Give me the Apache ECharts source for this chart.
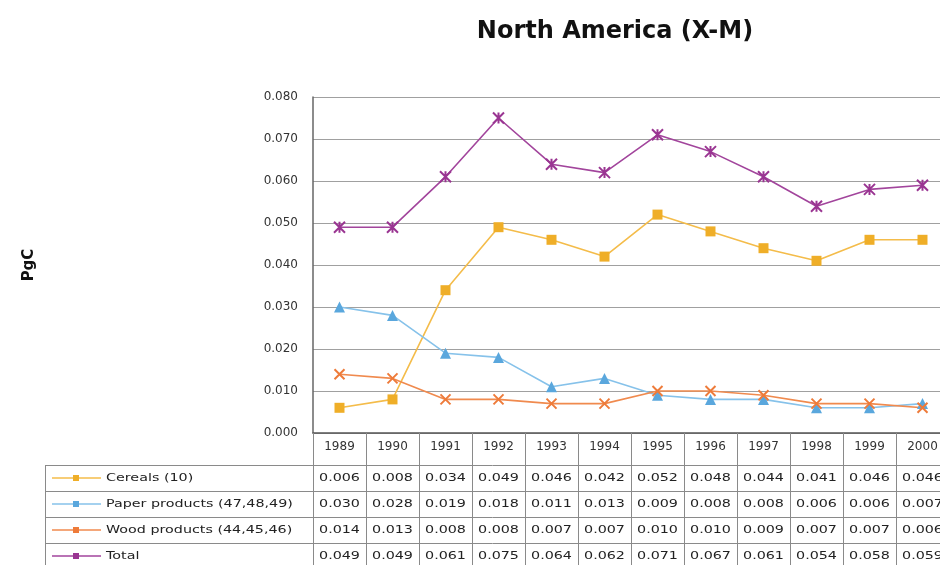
<!DOCTYPE html>
<html>
<head>
<meta charset="utf-8">
<title>North America (X-M)</title>
<script src="https://cdn.jsdelivr.net/npm/echarts@6/dist/echarts.min.js"></script>
<style>
  html, body { margin: 0; padding: 0; background: #fff; }
  #chart { width: 940px; height: 565px; }
</style>
</head>
<body>
<div id="chart"></div>
<script>
// Net trade (exports minus imports) of harvested carbon, PgC
const years = ['1989', '1990', '1991', '1992', '1993', '1994', '1995', '1996', '1997', '1998', '1999', '2000'];
const cereals = [0.006, 0.008, 0.034, 0.049, 0.046, 0.042, 0.052, 0.048, 0.044, 0.041, 0.046, 0.046];
const paperProducts = [0.030, 0.028, 0.019, 0.018, 0.011, 0.013, 0.009, 0.008, 0.008, 0.006, 0.006, 0.007];
const woodProducts = [0.014, 0.013, 0.008, 0.008, 0.007, 0.007, 0.010, 0.010, 0.009, 0.007, 0.007, 0.006];
const total = [0.049, 0.049, 0.061, 0.075, 0.064, 0.062, 0.071, 0.067, 0.061, 0.054, 0.058, 0.059];
const seriesNames = ['Cereals (10)', 'Paper products (47,48,49)', 'Wood products (44,45,46)', 'Total'];

const FONT = '"DejaVu Sans", "Liberation Sans", sans-serif';
const rows = [
  { name: seriesNames[0], data: cereals, line: '#F4BC4A', mark: '#EFAE28', symbol: 'rect', size: 10 },
  { name: seriesNames[1], data: paperProducts, line: '#86C2EA', mark: '#5AA7DD', symbol: 'triangle', size: 11 },
  { name: seriesNames[2], data: woodProducts, line: '#F08A4E', mark: '#EE7B3A', symbol: 'path://M0,0L10,10M10,0L0,10', size: 10 },
  { name: seriesNames[3], data: total, line: '#A2459C', mark: '#9A3592', symbol: 'path://M0,0L10,10M10,0L0,10M5,0L5,10', size: 11 }
];

const chart = echarts.init(document.getElementById('chart'), null, { renderer: 'canvas' });

chart.setOption({
  animation: false,
  backgroundColor: '#ffffff',
  title: {
    text: 'North America (X-M)',
    left: 610,
    top: 15,
    textAlign: 'center',
    textStyle: { fontFamily: FONT, fontWeight: 'bold', fontSize: 24, color: '#111' }
  },
  grid: { left: 313, top: 97, width: 636, height: 336, containLabel: false, outerBoundsMode: 'none' },
  xAxis: {
    type: 'category',
    data: years,
    boundaryGap: true,
    axisLine: { lineStyle: { color: '#555', width: 1.5 } },
    axisTick: { show: true, alignWithLabel: false, length: 134, lineStyle: { color: '#8a8a8a', width: 1 } },
    axisLabel: { margin: 8, fontFamily: FONT, fontSize: 12, color: '#333' },
    splitLine: { show: false }
  },
  yAxis: {
    type: 'value',
    min: 0,
    max: 0.08,
    interval: 0.01,
    name: 'PgC',
    nameLocation: 'middle',
    nameGap: 276,
    nameRotate: 90,
    nameTextStyle: { fontFamily: FONT, fontWeight: 'bold', fontSize: 15, color: '#111' },
    axisLine: { show: true, lineStyle: { color: '#666', width: 1.5 } },
    axisTick: { show: false },
    axisLabel: { margin: 15, fontFamily: FONT, fontSize: 12, color: '#333', formatter: v => v.toFixed(3) },
    splitLine: { show: true, lineStyle: { color: '#a0a0a0', width: 1.2 } }
  },
  series: rows.map(r => ({
    name: r.name,
    type: 'line',
    data: r.data,
    symbol: r.symbol,
    symbolSize: r.size,
    showSymbol: true,
    lineStyle: { color: r.line, width: 1.6 },
    itemStyle: { color: r.mark, borderColor: r.mark, borderWidth: r.symbol.startsWith('path') ? 2 : 0 },
    emphasis: { disabled: true },
    z: 3
  }))
});

// Data table below the plot, aligned to the category axis
function buildTable() {
  const xs = years.map((y, i) => chart.convertToPixel({ xAxisIndex: 0 }, i));
  const baseY = chart.convertToPixel({ yAxisIndex: 0 }, 0);
  const headerH = 32;
  const rowH = 26;
  const tableLeft = 45;
  const tableRight = 940;
  const tableTop = baseY + headerH;
  const els = [];
  const lineStyle = { stroke: '#8a8a8a', lineWidth: 1 };

  for (let k = 0; k <= rows.length; k++) {
    const y = Math.round(tableTop + k * rowH) + 0.5;
    els.push({ type: 'line', shape: { x1: tableLeft, y1: y, x2: tableRight, y2: y }, style: lineStyle, silent: true });
  }
  els.push({ type: 'line', shape: { x1: tableLeft + 0.5, y1: tableTop, x2: tableLeft + 0.5, y2: 565 }, style: lineStyle, silent: true });

  rows.forEach((r, k) => {
    const cy = tableTop + k * rowH + rowH / 2;
    // legend key: line with a small marker
    els.push({ type: 'line', shape: { x1: 52, y1: cy, x2: 101, y2: cy }, style: { stroke: r.line, lineWidth: 1.6 }, silent: true });
    els.push({ type: 'rect', shape: { x: 73, y: cy - 3, width: 6, height: 6 }, style: { fill: r.mark }, silent: true });
    els.push({
      type: 'text', x: 106, y: cy, scaleX: 1.3, silent: true,
      style: { text: r.name, x: 0, y: 0, textAlign: 'left', textVerticalAlign: 'middle', font: '11px ' + FONT, fill: '#222' }
    });
    r.data.forEach((v, i) => {
      els.push({
        type: 'text', x: xs[i], y: cy, scaleX: 1.3, silent: true,
        style: { text: v.toFixed(3), x: 0, y: 0, textAlign: 'center', textVerticalAlign: 'middle', font: '11px ' + FONT, fill: '#222' }
      });
    });
  });

  chart.setOption({ graphic: { elements: els } });
}
buildTable();
</script>
</body>
</html>
